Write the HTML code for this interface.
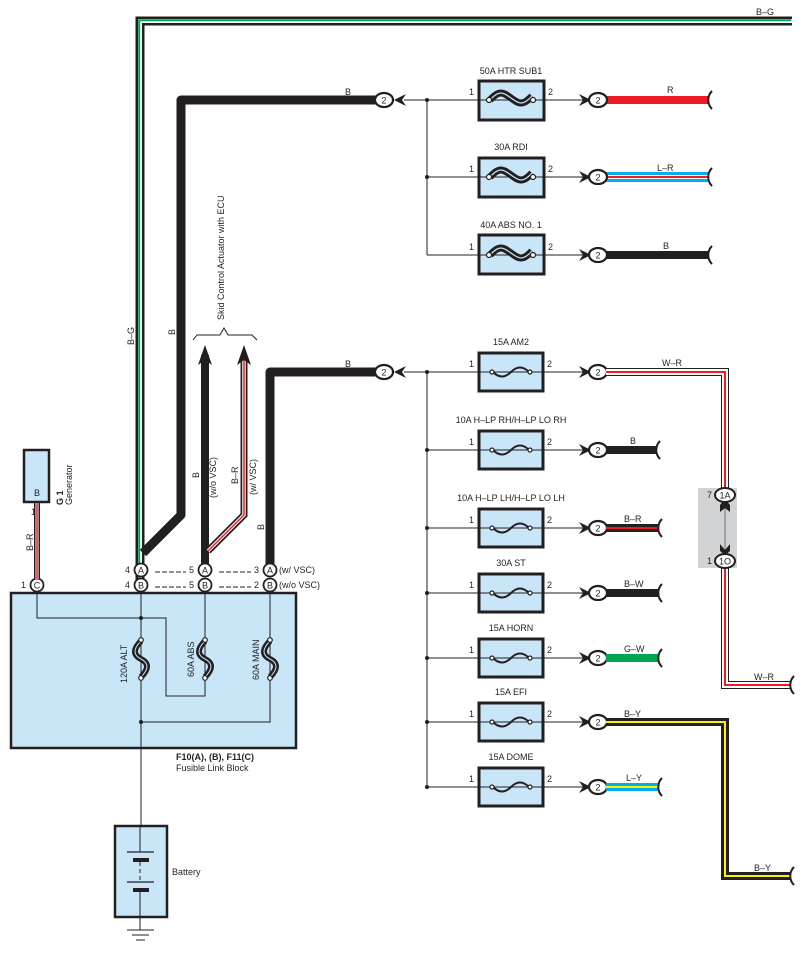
<!DOCTYPE html>
<html><head><meta charset="utf-8"><style>
html,body{margin:0;padding:0;background:#fff}
svg{display:block}
text{font-family:"Liberation Sans",sans-serif;fill:#231f20}
</style></head><body>
<svg width="802" height="953" viewBox="0 0 802 953" xmlns="http://www.w3.org/2000/svg">
<defs>
<g id="hfuse"><path d="M-21,0 C-12,-10 -8,-8 0,-2 C8,4 12,6 21,-4" fill="none" stroke="#231f20" stroke-width="7"/><path d="M-21,0 C-12,-10 -8,-8 0,-2 C8,4 12,6 21,-4" fill="none" stroke="#c8e6f8" stroke-width="1.2"/><circle cx="-22" cy="0" r="2.5" fill="#fff" stroke="#231f20" stroke-width="1.2"/><circle cx="22" cy="0" r="2.5" fill="#fff" stroke="#231f20" stroke-width="1.2"/></g>
<g id="sfuse"><path d="M-18,0 C-12,6 -6,6 0,0 C6,-6 12,-6 18,0" fill="none" stroke="#231f20" stroke-width="2"/><circle cx="-19" cy="0" r="2" fill="#fff" stroke="#231f20" stroke-width="1.2"/><circle cx="19" cy="0" r="2" fill="#fff" stroke="#231f20" stroke-width="1.2"/></g>
<g id="vfuse"><path d="M0,-18 C-8,-10 -8,-4 0,0 C8,4 8,10 0,18" fill="none" stroke="#231f20" stroke-width="6"/><path d="M0,-18 C-8,-10 -8,-4 0,0 C8,4 8,10 0,18" fill="none" stroke="#c8e6f8" stroke-width="1"/><circle cx="0" cy="-19" r="2.3" fill="#fff" stroke="#231f20" stroke-width="1.2"/><circle cx="0" cy="19" r="2.3" fill="#fff" stroke="#231f20" stroke-width="1.2"/></g>
<g id="conn"><ellipse cx="0" cy="0" rx="9" ry="7" fill="#fff" stroke="#231f20" stroke-width="2.2"/></g>
<path id="chevR" d="M-11,-6 L1,0 L-11,6 L-7,0 Z" fill="#231f20"/>
<path id="chevL" d="M11,-6 L-1,0 L11,6 L7,0 Z" fill="#231f20"/>
<path id="brk" d="M4,-9 C-1,-4 -1,4 4,9" fill="none" stroke="#231f20" stroke-width="2"/>
</defs>

<!-- B-G wire -->
<path d="M140,580 V21 H792" fill="none" stroke="#231f20" stroke-width="9"/>
<path d="M140,580 V21 H792" fill="none" stroke="#fff" stroke-width="4"/>
<path d="M140,580 V21 H792" fill="none" stroke="#00a651" stroke-width="2" transform="translate(-0.8,-0.8)"/>
<text x="756" y="15" font-size="9">B–G</text>
<text x="134" y="345" font-size="9" transform="rotate(-90 134 345)">B–G</text>

<!-- top B thick -->
<path d="M378,100 H181 V515 L143,553" fill="none" stroke="#231f20" stroke-width="9" stroke-linejoin="round"/>
<text x="345" y="95" font-size="9">B</text>
<text x="175" y="335" font-size="9" transform="rotate(-90 175 335)">B</text>
<use href="#conn" x="384" y="100"/><text x="384" y="103.5" font-size="9" text-anchor="middle">2</text>
<use href="#chevL" x="395" y="100"/>
<line x1="404" y1="100" x2="478" y2="100" stroke="#231f20" stroke-width="1"/>
<line x1="427" y1="100" x2="427" y2="255" stroke="#231f20" stroke-width="1"/>
<line x1="427" y1="177" x2="478" y2="177" stroke="#231f20" stroke-width="1"/>
<line x1="427" y1="255" x2="478" y2="255" stroke="#231f20" stroke-width="1"/>
<circle cx="427" cy="100" r="2" fill="#231f20"/><circle cx="427" cy="177" r="2" fill="#231f20"/>

<!-- top fuses -->
<g font-size="9">
<rect x="479" y="81" width="65" height="39" fill="#c8e6f8" stroke="#231f20" stroke-width="3"/>
<line x1="478" y1="100" x2="590" y2="100" stroke="#231f20" stroke-width="1"/><use href="#hfuse" x="511" y="100"/>
<text x="511" y="74" text-anchor="middle">50A HTR SUB1</text><text x="469" y="95">1</text><text x="548" y="95">2</text>
<rect x="479" y="158" width="65" height="39" fill="#c8e6f8" stroke="#231f20" stroke-width="3"/>
<line x1="478" y1="177" x2="590" y2="177" stroke="#231f20" stroke-width="1"/><use href="#hfuse" x="511" y="177"/>
<text x="511" y="150" text-anchor="middle">30A RDI</text><text x="469" y="172">1</text><text x="548" y="172">2</text>
<rect x="479" y="235" width="65" height="39" fill="#c8e6f8" stroke="#231f20" stroke-width="3"/>
<line x1="478" y1="255" x2="590" y2="255" stroke="#231f20" stroke-width="1"/><use href="#hfuse" x="511" y="255"/>
<text x="511" y="228" text-anchor="middle">40A ABS NO. 1</text><text x="469" y="250">1</text><text x="548" y="250">2</text>
</g>
<!-- top outputs -->
<rect x="606" y="96" width="102" height="8" fill="#ed1c24"/>
<rect x="606" y="172" width="102" height="10" fill="#00aeef"/><rect x="606" y="176" width="102" height="2" fill="#ed1c24"/>
<rect x="606" y="175" width="102" height="1" fill="#fff"/><rect x="606" y="178" width="102" height="1" fill="#fff"/>
<rect x="606" y="251" width="102" height="8" fill="#231f20"/>
<g font-size="9"><text x="667" y="93">R</text><text x="657" y="171">L–R</text><text x="663" y="249">B</text></g>
<use href="#chevR" x="590" y="100"/><use href="#conn" x="598" y="100"/><text x="598" y="103.5" font-size="9" text-anchor="middle">2</text>
<use href="#chevR" x="590" y="177"/><use href="#conn" x="598" y="177"/><text x="598" y="180.5" font-size="9" text-anchor="middle">2</text>
<use href="#chevR" x="590" y="255"/><use href="#conn" x="598" y="255"/><text x="598" y="258.5" font-size="9" text-anchor="middle">2</text>
<use href="#brk" x="708" y="100"/><use href="#brk" x="708" y="177"/><use href="#brk" x="708" y="255"/>

<!-- Skid control label & arrows -->
<text x="224" y="320" font-size="9" transform="rotate(-90 224 320)">Skid Control Actuator with ECU</text>
<path d="M193,340 L197,335 H220 L224,328 L228,335 H252 L257,340" fill="none" stroke="#231f20" stroke-width="1"/>
<line x1="205" y1="355" x2="205" y2="566" stroke="#231f20" stroke-width="8"/>
<path d="M198,365 L205,345 L212,365 L205,360 Z" fill="#231f20"/>
<path d="M244,355 V515 L208,551" fill="none" stroke="#231f20" stroke-width="7"/>
<path d="M244,355 V515 L208,551" fill="none" stroke="#fff" stroke-width="3.5"/>
<path d="M244,355 V515 L208,551" fill="none" stroke="#ed1c24" stroke-width="1.5"/>
<path d="M237,365 L244,345 L251,365 L244,360 Z" fill="#231f20"/>
<text x="199" y="478" font-size="9" transform="rotate(-90 199 478)">B</text>
<text x="216" y="498" font-size="9" transform="rotate(-90 216 498)">(w/o VSC)</text>
<text x="238" y="484" font-size="9" transform="rotate(-90 238 484)">B–R</text>
<text x="256" y="495" font-size="9" transform="rotate(-90 256 495)">(w/ VSC)</text>
<text x="264" y="530" font-size="9" transform="rotate(-90 264 530)">B</text>

<!-- lower B thick -->
<path d="M378,372 H270 V566" fill="none" stroke="#231f20" stroke-width="9" stroke-linejoin="round"/>
<text x="345" y="367" font-size="9">B</text>
<use href="#conn" x="384" y="372"/><text x="384" y="375.5" font-size="9" text-anchor="middle">2</text>
<use href="#chevL" x="395" y="372"/>
<line x1="404" y1="372" x2="478" y2="372" stroke="#231f20" stroke-width="1"/>
<line x1="427" y1="372" x2="427" y2="787" stroke="#231f20" stroke-width="1"/>

<!-- lower fuses -->
<g font-size="9">
<g id="f1"><line x1="427" y1="372" x2="590" y2="372" stroke="#231f20" stroke-width="1"/><rect x="479" y="353" width="64" height="38" fill="#c8e6f8" stroke="#231f20" stroke-width="3"/><line x1="479" y1="372" x2="543" y2="372" stroke="#231f20" stroke-width="1"/><use href="#sfuse" x="511" y="372"/><use href="#chevR" x="590" y="372"/><use href="#conn" x="598" y="372"/><text x="598" y="375.5" text-anchor="middle">2</text><text x="469" y="367">1</text><text x="547" y="367">2</text><circle cx="427" cy="372" r="2" fill="#231f20"/></g>
<use href="#f1" y="78"/><use href="#f1" y="156"/><use href="#f1" y="221"/><use href="#f1" y="286"/><use href="#f1" y="350"/><use href="#f1" y="415"/>
<text x="511" y="345" text-anchor="middle">15A AM2</text>
<text x="511" y="423" text-anchor="middle">10A H–LP RH/H–LP LO RH</text>
<text x="511" y="501" text-anchor="middle">10A H–LP LH/H–LP LO LH</text>
<text x="511" y="566" text-anchor="middle">30A ST</text>
<text x="511" y="631" text-anchor="middle">15A HORN</text>
<text x="511" y="695" text-anchor="middle">15A EFI</text>
<text x="511" y="760" text-anchor="middle">15A DOME</text>
</g>

<!-- lower outputs -->
<rect x="606" y="446" width="50" height="8" fill="#231f20"/><use href="#brk" x="656" y="450"/>
<rect x="606" y="524" width="52" height="8" fill="#231f20"/><rect x="606" y="527" width="52" height="2" fill="#ed1c24"/><use href="#brk" x="658" y="528"/>
<rect x="606" y="589" width="52" height="8" fill="#231f20"/><use href="#brk" x="658" y="593"/>
<rect x="606" y="654" width="52" height="8" fill="#00a651"/><use href="#brk" x="658" y="658"/>
<rect x="606" y="783" width="52" height="8" fill="#00aeef"/><rect x="606" y="786" width="52" height="2" fill="#fff200"/><use href="#brk" x="658" y="787"/>
<g font-size="9"><text x="630" y="444">B</text><text x="624" y="522">B–R</text><text x="624" y="587">B–W</text><text x="624" y="652">G–W</text><text x="626" y="781">L–Y</text><text x="624" y="717">B–Y</text>
<text x="662" y="366">W–R</text><text x="754" y="680">W–R</text><text x="754" y="871">B–Y</text></g>

<!-- W-R route -->
<rect x="698" y="488" width="39" height="80" fill="#d1d3d4"/>
<path d="M606,372 H725 V488" fill="none" stroke="#231f20" stroke-width="8"/>
<path d="M606,372 H725 V488" fill="none" stroke="#fff" stroke-width="6"/>
<path d="M606,372 H725 V488" fill="none" stroke="#ed1c24" stroke-width="2"/>
<path d="M725,568 V685 H790" fill="none" stroke="#231f20" stroke-width="8"/>
<path d="M725,568 V685 H790" fill="none" stroke="#fff" stroke-width="6"/>
<path d="M725,568 V685 H790" fill="none" stroke="#ed1c24" stroke-width="2"/>
<use href="#brk" x="790" y="685"/>
<line x1="725" y1="505" x2="725" y2="550" stroke="#6d6e71" stroke-width="1"/>
<path d="M720,505 L725,499 L730,505 L730,512 L725,508 L720,512 Z" fill="#231f20"/>
<path d="M720,551 L725,555 L730,551 L730,544 L725,550 L720,544 Z" fill="#231f20"/>
<ellipse cx="725" cy="495" rx="10" ry="7" fill="#fff" stroke="#231f20" stroke-width="2"/><text x="725" y="498.5" font-size="9" text-anchor="middle">1A</text>
<ellipse cx="725" cy="561" rx="10" ry="7" fill="#fff" stroke="#231f20" stroke-width="2"/><text x="725" y="564.5" font-size="9" text-anchor="middle">1O</text>
<text x="707" y="498" font-size="9">7</text><text x="707" y="564" font-size="9">1</text>

<!-- B-Y route -->
<path d="M606,722 H725 V876 H790" fill="none" stroke="#231f20" stroke-width="8"/>
<path d="M606,722 H725 V876 H790" fill="none" stroke="#fff200" stroke-width="2"/>
<use href="#brk" x="790" y="876"/>

<!-- Fusible link block -->
<rect x="11" y="593" width="285" height="155" fill="#c8e6f8" stroke="#231f20" stroke-width="2.5"/>
<path d="M37,585 V618 H166 V696 H205 V585" fill="none" stroke="#231f20" stroke-width="1"/>
<path d="M141,585 V826" fill="none" stroke="#231f20" stroke-width="1"/>
<path d="M270,585 V722 H141" fill="none" stroke="#231f20" stroke-width="1"/>
<circle cx="141" cy="618" r="2" fill="#231f20"/><circle cx="141" cy="722" r="2" fill="#231f20"/>
<use href="#vfuse" x="141" y="659"/><use href="#vfuse" x="205" y="659"/><use href="#vfuse" x="270" y="659"/>
<g font-size="9">
<text x="127" y="683" transform="rotate(-90 127 683)">120A ALT</text>
<text x="194" y="677" transform="rotate(-90 194 677)">60A ABS</text>
<text x="259" y="680" transform="rotate(-90 259 680)">60A MAIN</text>
<text x="176" y="760" font-weight="bold">F10(A), (B), F11(C)</text>
<text x="176" y="771">Fusible Link Block</text>
</g>

<!-- connectors A/B row -->
<g font-size="9">
<circle cx="141" cy="570" r="6.5" fill="#fff" stroke="#231f20" stroke-width="1.8"/><text x="141" y="573.5" text-anchor="middle">A</text>
<circle cx="141" cy="585" r="6.5" fill="#fff" stroke="#231f20" stroke-width="1.8"/><text x="141" y="588.5" text-anchor="middle">B</text>
<circle cx="205" cy="570" r="6.5" fill="#fff" stroke="#231f20" stroke-width="1.8"/><text x="205" y="573.5" text-anchor="middle">A</text>
<circle cx="205" cy="585" r="6.5" fill="#fff" stroke="#231f20" stroke-width="1.8"/><text x="205" y="588.5" text-anchor="middle">B</text>
<circle cx="270" cy="570" r="6.5" fill="#fff" stroke="#231f20" stroke-width="1.8"/><text x="270" y="573.5" text-anchor="middle">A</text>
<circle cx="270" cy="585" r="6.5" fill="#fff" stroke="#231f20" stroke-width="1.8"/><text x="270" y="588.5" text-anchor="middle">B</text>
<circle cx="37" cy="585" r="6.5" fill="#fff" stroke="#231f20" stroke-width="1.8"/><text x="37" y="588.5" text-anchor="middle">C</text>
<text x="125" y="573">4</text><text x="125" y="588">4</text>
<text x="189" y="573">5</text><text x="189" y="588">5</text>
<text x="254" y="573">3</text><text x="254" y="588">2</text>
<text x="21" y="588">1</text>
<text x="279" y="573">(w/ VSC)</text><text x="279" y="588">(w/o VSC)</text>
</g>
<g stroke="#231f20" stroke-width="1" stroke-dasharray="5,2">
<line x1="155" y1="572" x2="186" y2="572"/><line x1="155" y1="587" x2="186" y2="587"/>
<line x1="219" y1="572" x2="251" y2="572"/><line x1="219" y1="587" x2="251" y2="587"/>
</g>

<!-- Generator -->
<rect x="24" y="450" width="25" height="52" fill="#c8e6f8" stroke="#231f20" stroke-width="2.5"/>
<text x="37" y="496" font-size="9" text-anchor="middle">B</text>
<line x1="37" y1="503" x2="37" y2="579" stroke="#231f20" stroke-width="6"/>
<line x1="37" y1="503" x2="37" y2="579" stroke="#fff" stroke-width="3"/>
<line x1="37" y1="503" x2="37" y2="579" stroke="#ed1c24" stroke-width="1.5"/>
<text x="31" y="515" font-size="9">1</text>
<text x="33" y="551" font-size="9" transform="rotate(-90 33 551)">B–R</text>
<text x="63" y="505" font-size="9" font-weight="bold" transform="rotate(-90 63 505)">G 1</text>
<text x="72" y="505" font-size="9" transform="rotate(-90 72 505)">Generator</text>

<!-- Battery -->
<rect x="115" y="826" width="52" height="91" fill="#c8e6f8" stroke="#231f20" stroke-width="2.5"/>
<line x1="140" y1="826" x2="140" y2="852" stroke="#231f20" stroke-width="1"/>
<line x1="127" y1="852" x2="154" y2="852" stroke="#231f20" stroke-width="1.2"/>
<rect x="133" y="858" width="16" height="4" fill="#231f20"/>
<line x1="140" y1="862" x2="140" y2="882" stroke="#231f20" stroke-width="1" stroke-dasharray="4,3"/>
<line x1="127" y1="882" x2="154" y2="882" stroke="#231f20" stroke-width="1.2"/>
<rect x="133" y="888" width="16" height="4" fill="#231f20"/>
<line x1="140" y1="892" x2="140" y2="930" stroke="#231f20" stroke-width="1"/>
<line x1="127" y1="930" x2="154" y2="930" stroke="#231f20" stroke-width="1"/>
<line x1="132" y1="935" x2="149" y2="935" stroke="#231f20" stroke-width="1"/>
<line x1="136" y1="940" x2="145" y2="940" stroke="#231f20" stroke-width="1"/>
<text x="172" y="875" font-size="9">Battery</text>
</svg>
</body></html>
